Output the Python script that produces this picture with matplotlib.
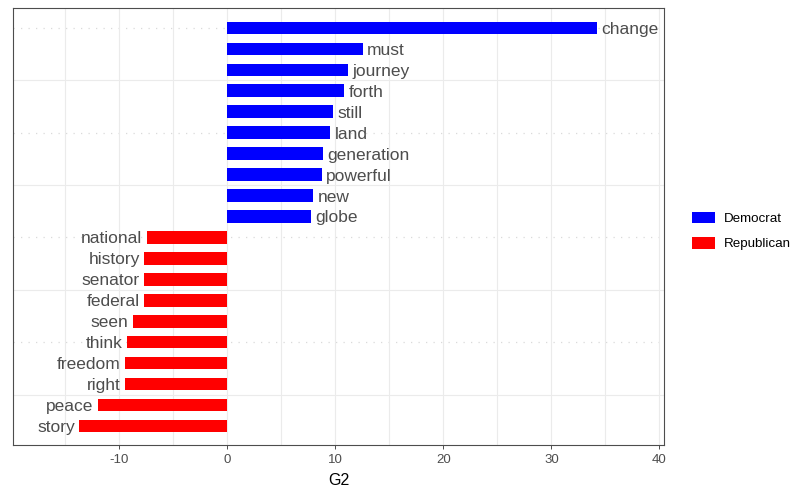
import matplotlib.pyplot as plt
from matplotlib.patches import Patch

plt.rcParams['font.family'] = ['Liberation Sans', 'DejaVu Sans']

# palabras y valores G2
dem_words = ['change', 'must', 'journey', 'forth', 'still', 'land',
             'generation', 'powerful', 'new', 'globe']
dem_g2 = [34.23, 12.57, 11.18, 10.85, 9.83, 9.55, 8.91, 8.78, 7.98, 7.76]

rep_words = ['national', 'history', 'senator', 'federal', 'seen', 'think',
             'freedom', 'right', 'peace', 'story']
rep_g2 = [-7.45, -7.67, -7.70, -7.70, -8.72, -9.27, -9.43, -9.45, -11.95, -13.68]

parties = ['Democrat', 'Republican']
party_colors = {'Democrat': '#0000ff', 'Republican': '#ff0000'}
x_ticks = [-10, 0, 10, 20, 30, 40]

words = dem_words + rep_words
values = dem_g2 + rep_g2
n = len(words)
ypos = list(range(n, 0, -1))

fig = plt.figure(figsize=(7.99, 4.94), dpi=100)
ax = fig.add_axes([13 / 799, 1 - 445.3 / 494, (664.3 - 13) / 799, (445.3 - 8) / 494])

# grid
for yv in [20, 15, 10, 5]:
    ax.axhline(yv, color='#dadada', lw=0.9, ls=(0, (1, 5)), zorder=0)
for yv in [17.5, 12.5, 7.5, 2.5]:
    ax.axhline(yv, color='#ebebeb', lw=0.8, zorder=0)
for xv in range(-15, 45, 5):
    ax.axvline(xv, color='#ebebeb', lw=0.8, zorder=0)

for w, v, y in zip(words, values, ypos):
    party = 'Democrat' if v > 0 else 'Republican'
    ax.barh(y, v, height=0.6, color=party_colors[party], zorder=2)
    if v > 0:
        ax.text(v + 0.4, y, w, ha='left', va='center_baseline', fontsize=12.5, color='#4d4d4d')
    else:
        ax.text(v - 0.4, y, w, ha='right', va='center_baseline', fontsize=12.5, color='#4d4d4d')

ax.set_xlim(-19.8, 40.45)
ax.set_ylim(0.08, 20.95)
ax.set_xticks(x_ticks)
ax.set_xticklabels([str(t) for t in x_ticks])
ax.set_yticks([])
ax.tick_params(axis='x', length=3, width=0.7, color='#4d4d4d', labelcolor='#4d4d4d',
               labelsize=9.5, pad=3)
for s in ax.spines.values():
    s.set_color('#4d4d4d')
    s.set_linewidth(0.8)
ax.set_xlabel('G2', fontsize=11.5, color='black', labelpad=5)

handles = [Patch(facecolor=party_colors[p], edgecolor='none', label=p) for p in parties]
fig.legend(handles=handles, loc='center left', bbox_to_anchor=(680 / 799, 1 - 231 / 494),
           frameon=False, fontsize=9.6, handlelength=1.7, handleheight=0.95,
           labelspacing=0.9, handletextpad=0.7)

fig.savefig('out.png', dpi=100)
